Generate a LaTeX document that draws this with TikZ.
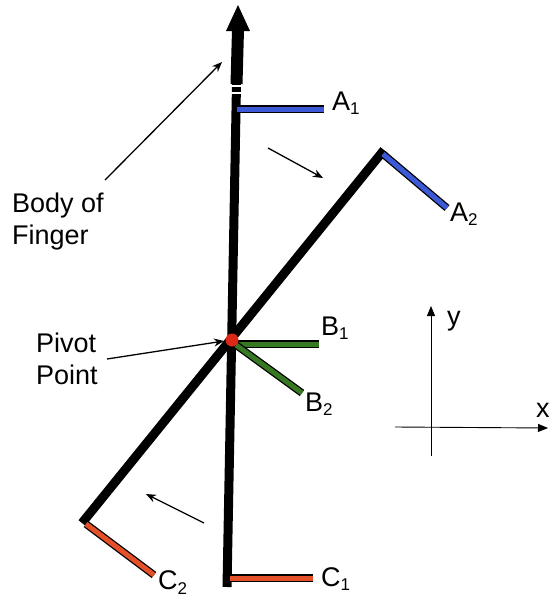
\documentclass[tikz,border=0pt]{standalone}
\usepackage{fontspec}
\setmainfont{Liberation Sans}
\usetikzlibrary{arrows.meta}
\definecolor{barblue}{RGB}{60,90,215}
\definecolor{barred}{RGB}{230,80,40}
\definecolor{bargreen}{RGB}{55,120,35}
\definecolor{pivred}{RGB}{220,40,25}
\newcommand{\sub}[1]{\raisebox{-0.35ex}{\fontsize{17}{17}\selectfont #1}}
\begin{document}
\begin{tikzpicture}[x=1pt,y=-1pt,
  finger/.style={line width=9pt,black},
  bar/.style={line width=1.3pt,black,double distance=5pt},
  thinarrow/.style={line width=1.3pt,-{Stealth[length=10pt,width=8pt]}},
  lbl/.style={font=\fontsize{27}{32}\selectfont,inner sep=0pt},
  axis/.style={line width=0.9pt,-{Triangle[length=10pt,width=8pt]}}]
\useasboundingbox (0,0) rectangle (549,598);
% coordinates
\coordinate (vbot) at (227,587);
\coordinate (vband) at (236.5,84);
\coordinate (vtop) at (238,30);
\coordinate (dbot) at (82,523);
\coordinate (dtop) at (384,150);
\coordinate (piv) at (232,340);
% vertical finger
\draw[finger] (vbot) -- (vband);
\draw[line width=12pt] (vband) -- (vtop);
\fill (226,31) -- (250,31) -- (238,5) -- cycle;
\draw[white,line width=1.6pt] (229,86) -- (246,86);
\draw[white,line width=1.6pt] (229,93) -- (246,93);
% diagonal finger
\draw[finger] (dbot) -- (dtop);
% bars
\coordinate (a1s) at (237,109); \coordinate (a1e) at (324,109);
\coordinate (a2s) at (383,154); \coordinate (a2e) at (447,208);
\coordinate (c1s) at (230,578); \coordinate (c1e) at (313,578);
\coordinate (c2s) at (86,524); \coordinate (c2e) at (154,575);
\coordinate (b1s) at (237,344); \coordinate (b1e) at (319,344);
\coordinate (b2s) at (236,345); \coordinate (b2e) at (302,393);
\draw[bar,double=barblue] (a1s) -- (a1e);
\draw[bar,double=barblue] (a2s) -- (a2e);
\draw[bar,double=barred] (c1s) -- (c1e);
\draw[bar,double=barred] (c2s) -- (c2e);
\draw[bar,double=bargreen] (b1s) -- (b1e);
\draw[bar,double=bargreen] (b2s) -- (b2e);
% pivot
\fill[pivred] (piv) circle (6.5);
% labels
\node[lbl,anchor=base west] (A1) at (332,110) {A\sub{1}};
\node[lbl,anchor=base west] (A2) at (450,221) {A\sub{2}};
\node[lbl,anchor=base west] (B1) at (321,335) {B\sub{1}};
\node[lbl,anchor=base west] (B2) at (305,411) {B\sub{2}};
\node[lbl,anchor=base west] (C1) at (321,586) {C\sub{1}};
\node[lbl,anchor=base west] (C2) at (158,589) {C\sub{2}};
\node[lbl,anchor=north west,align=left] (body) at (12,193) {Body of\\Finger};
\node[lbl,anchor=north west,align=left] (pivl) at (36,333) {Pivot\\Point};
% pointer arrows
\coordinate (bodytail) at (105,180);
\coordinate (bodyhead) at (222,62);
\draw[thinarrow] (bodytail) -- (bodyhead);
\coordinate (pivtail) at (107,359);
\coordinate (pivhead) at (224,341);
\draw[thinarrow] (pivtail) -- (pivhead);
% rotation arrows
\coordinate (r1t) at (268,148); \coordinate (r1h) at (323,178);
\draw[thinarrow] (r1t) -- (r1h);
\coordinate (r2t) at (204,523); \coordinate (r2h) at (146,494);
\draw[thinarrow] (r2t) -- (r2h);
% axes
\coordinate (yb) at (431,456); \coordinate (yt) at (431,306);
\coordinate (xl) at (395,427); \coordinate (xr) at (548,428);
\draw[axis] (yb) -- (yt);
\draw[axis] (xl) -- (xr);
\node[lbl,anchor=base west] (ylab) at (447,325) {y};
\node[lbl,anchor=base west] (xlab) at (536,417) {x};
\end{tikzpicture}
\end{document}
